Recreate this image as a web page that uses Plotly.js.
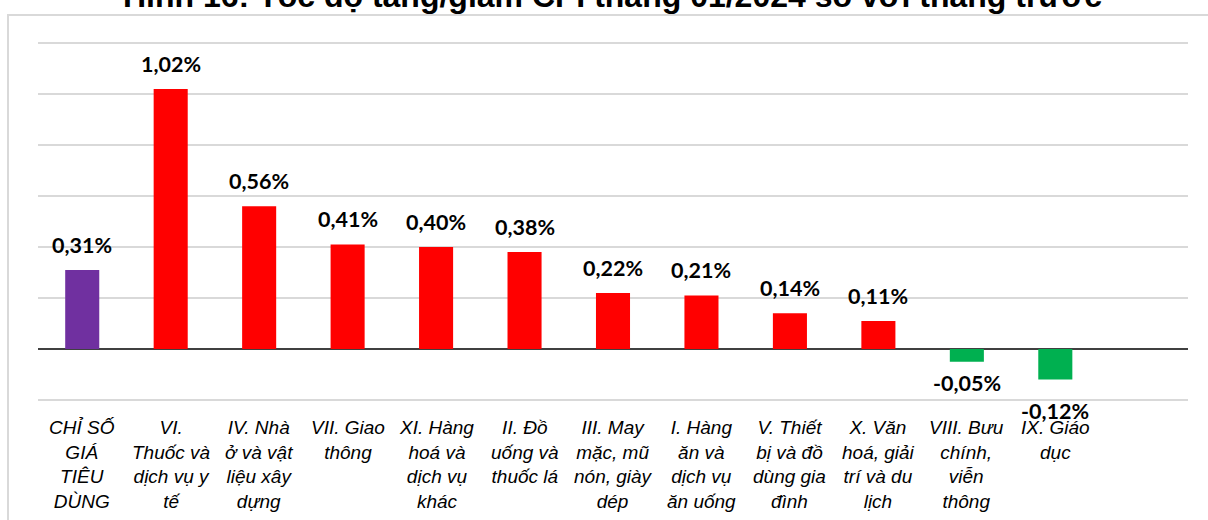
<!DOCTYPE html>
<html>
<head>
<meta charset="utf-8">
<script src="https://cdn.plot.ly/plotly-3.0.1.min.js"></script>
<style>
html,body{margin:0;padding:0;background:#fff;}
#chart{width:1208px;height:520px;}
</style>
</head>
<body>
<div id="chart"></div>
<script>
const chartTitle = "Hình 16: Tốc độ tăng/giảm CPI tháng 01/2024 so với tháng trước";
const categories = [
  "CHỈ SỐ<br>GIÁ<br>TIÊU<br>DÙNG",
  "VI.<br>Thuốc và<br>dịch vụ y<br>tế",
  "IV. Nhà<br>ở và vật<br>liệu xây<br>dựng",
  "VII. Giao<br>thông",
  "XI. Hàng<br>hoá và<br>dịch vụ<br>khác",
  "II. Đồ<br>uống và<br>thuốc lá",
  "III. May<br>mặc, mũ<br>nón, giày<br>dép",
  "I. Hàng<br>ăn và<br>dịch vụ<br>ăn uống",
  "V. Thiết<br>bị và đồ<br>dùng gia<br>đình",
  "X. Văn<br>hoá, giải<br>trí và du<br>lịch",
  "VIII. Bưu<br>chính,<br>viễn<br>thông",
  "IX. Giáo<br>dục"
];
const values = [0.31, 1.02, 0.56, 0.41, 0.40, 0.38, 0.22, 0.21, 0.14, 0.11, -0.05, -0.12];
const labels = values.map(v => v.toFixed(2).replace('.', ',') + '%');

const colors = values.map((v, i) => i === 0 ? '#7030A0' : (v >= 0 ? '#FF0000' : '#00B050'));

const trace = {
  type: 'bar',
  x: categories,
  y: values,
  marker: {color: colors},
  width: 0.385,
  hoverinfo: 'none'
};

const annotations = [];

// category labels (italic), drawn under the axis
categories.forEach(c => {
  annotations.push({
    x: c, xref: 'x', yref: 'paper', y: 0,
    xanchor: 'center', yanchor: 'top', yshift: -13,
    align: 'center', showarrow: false,
    text: c.split('<br>').map(s => '<i>' + s + '</i>').join('<br>'),
    font: {family: '"Liberation Sans", Arial, sans-serif', size: 19, color: '#000'}
  });
});

// value labels
values.forEach((v, i) => {
  let shift = 25;
  if (v < 0) shift = (v < -0.1) ? -31 : -21;
  annotations.push({
    x: categories[i], y: v, xref: 'x', yref: 'y',
    text: '<b>' + labels[i] + '</b>', showarrow: false,
    yanchor: 'middle', yshift: shift,
    font: {family: 'Lato, "Liberation Sans", Arial, sans-serif', size: 21.5, color: '#000'}
  });
});

const plotBottom = 402, plotH = 361;
annotations.push({
  text: '<b>' + chartTitle + '</b>',
  xref: 'paper', yref: 'paper',
  x: (612 - 38) / 1150, y: (plotBottom - 16) / plotH,
  xanchor: 'center', yanchor: 'bottom',
  showarrow: false,
  font: {family: '"Liberation Sans", Arial, sans-serif', size: 32, color: '#000'}
});

const layout = {
  width: 1208, height: 520,
  margin: {l: 38, r: 20, t: 41, b: 118, pad: 0},
  paper_bgcolor: '#fff', plot_bgcolor: '#fff',
  showlegend: false,
  xaxis: {
    type: 'category',
    range: [-0.5, 12.5],
    showgrid: false, zeroline: false, showline: false,
    ticks: '', showticklabels: false
  },
  yaxis: {
    range: [-0.208, 1.208],
    dtick: 0.2, tick0: 0,
    showticklabels: false,
    showgrid: true, gridcolor: '#d9d9d9', gridwidth: 1.5,
    zeroline: true, zerolinecolor: '#404040', zerolinewidth: 2,
    showline: false, ticks: ''
  },
  annotations: annotations,
  shapes: [{
    type: 'rect', xref: 'paper', yref: 'paper',
    x0: (8 - 38) / 1150, x1: (1220 - 38) / 1150,
    y0: (plotBottom - 540) / plotH, y1: (plotBottom - 15) / plotH,
    line: {color: '#d9d9d9', width: 2},
    fillcolor: 'rgba(0,0,0,0)',
    layer: 'below'
  }]
};

Plotly.newPlot('chart', [trace], layout, {staticPlot: true, displayModeBar: false});
</script>
</body>
</html>
